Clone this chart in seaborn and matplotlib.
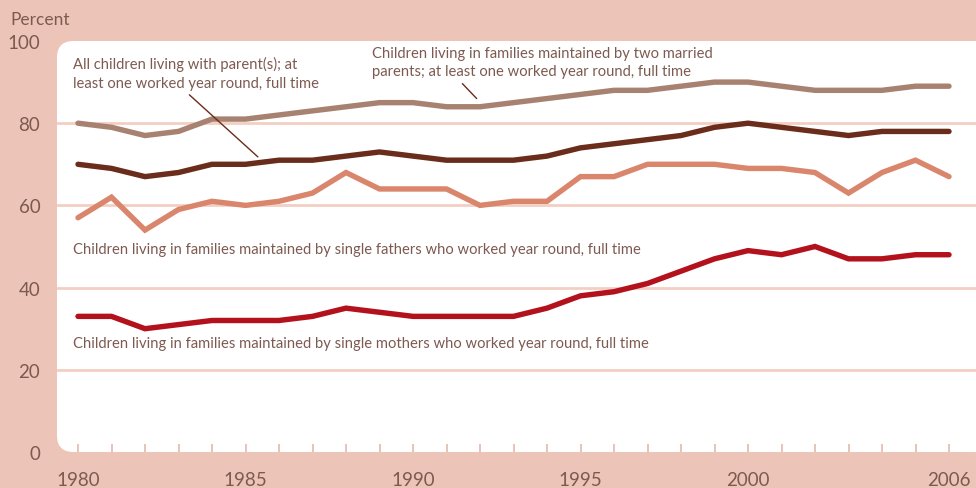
import numpy as np
import pandas as pd
import matplotlib
matplotlib.use('Agg')
import matplotlib.pyplot as plt
from matplotlib.patches import FancyBboxPatch
import seaborn as sns

# --- Data ---
YEARS = list(range(1980, 2007))
MARRIED = [80, 79, 77, 78, 81, 81, 82, 83, 84, 85, 85, 84, 84, 85, 86, 87, 88, 88, 89, 90, 90, 89, 88, 88, 88, 89, 89]
ALL_CHILDREN = [70, 69, 67, 68, 70, 70, 71, 71, 72, 73, 72, 71, 71, 71, 72, 74, 75, 76, 77, 79, 80, 79, 78, 77, 78, 78, 78]
FATHERS = [57, 62, 54, 59, 61, 60, 61, 63, 68, 64, 64, 64, 60, 61, 61, 67, 67, 70, 70, 70, 69, 69, 68, 63, 68, 71, 67]
MOTHERS = [33, 33, 30, 31, 32, 32, 32, 33, 35, 34, 33, 33, 33, 33, 35, 38, 39, 41, 44, 47, 49, 48, 50, 47, 47, 48, 48]
SERIES = ['married', 'all', 'fathers', 'mothers']
Y_TICKS = [0, 20, 40, 60, 80, 100]
X_TICK_LABELS = [1980, 1985, 1990, 1995, 2000, 2006]

# --- Styling ---
BG = '#edc5b8'
GRID = '#f3cfc3'
TEXT = '#7d5a50'
PALETTE = {'married': '#a88270', 'all': '#6a2c1b', 'fathers': '#d9866d', 'mothers': '#b3121d'}
FONT = ['Lato', 'DejaVu Sans']

df = pd.DataFrame({'Year': YEARS * 4,
                   'Percent': MARRIED + ALL_CHILDREN + FATHERS + MOTHERS,
                   'Series': np.repeat(SERIES, len(YEARS))})

sns.set_style('white')
plt.rcParams['font.family'] = FONT

fig = plt.figure(figsize=(9.76, 4.89), dpi=100, facecolor=BG)
W, H = 976, 489
left_px, right_px, top_px, bottom_px = 57, 976, 42, 453
ax = fig.add_axes([left_px / W, (H - bottom_px) / H, (right_px - left_px) / W, (bottom_px - top_px) / H])
ax.set_facecolor('none')
ax.set_zorder(2)

# white rounded panel behind the plot
panel = FancyBboxPatch((left_px / W, (H - bottom_px) / H), (right_px - left_px + 15) / W, (bottom_px - top_px) / H,
                       boxstyle='round,pad=0,rounding_size=0.017', mutation_aspect=W / H,
                       transform=fig.transFigure, facecolor='white', edgecolor='none', zorder=-5)
fig.patches.append(panel)

px_per_year = 33.5
x0 = 1980 - (78 - left_px) / px_per_year
x1 = 1980 + (right_px - 78) / px_per_year
ax.set_xlim(x0, x1)
ax.set_ylim(0, (bottom_px - top_px) / 4.1375)

for y in Y_TICKS[1:-1]:
    ax.axhline(y, color=GRID, lw=2, zorder=1)

sns.lineplot(data=df, x='Year', y='Percent', hue='Series', palette=PALETTE,
             linewidth=3.9, legend=False, ax=ax, zorder=3)
for line in ax.lines:
    line.set_solid_joinstyle('miter')

for s in ax.spines.values():
    s.set_visible(False)
ax.set_xlabel('')
ax.set_ylabel('')
ax.set_xticks(YEARS)
ax.set_xticklabels([str(y) if y in X_TICK_LABELS else '' for y in YEARS])
ax.tick_params(axis='x', bottom=True, direction='in', length=6, width=1.4, color='#e8c2b5', pad=14,
               labelsize=13.5, labelcolor=TEXT)
for t in ax.xaxis.get_major_ticks():
    t.tick1line.set_zorder(5)
ax.set_yticks(Y_TICKS)
ax.tick_params(axis='y', left=False, length=0, pad=12, labelsize=13.5, labelcolor=TEXT)
ax.get_yticklabels()[-1].set_y(99.2)

fig.text(10 / W, 1 - 20 / H, 'Percent', color=TEXT, fontsize=12.5, va='center', ha='left')

# --- Annotations ---
ann = dict(color=TEXT, fontsize=10.6, linespacing=1.4, va='top', ha='left')
ax.annotate('All children living with parent(s); at\nleast one worked year round, full time',
            xy=(1985.37, 71.8), xytext=(1979.85, 96.3),
            arrowprops=dict(arrowstyle='-', color='#6a2c1b', lw=1, shrinkA=2, shrinkB=0,
                            relpos=(0.45, 0.0)), **ann)
ax.annotate('Children living in families maintained by two married\nparents; at least one worked year round, full time',
            xy=(1991.9, 86.0), xytext=(1988.78, 98.8),
            arrowprops=dict(arrowstyle='-', color='#6a2c1b', lw=1, shrinkA=2, shrinkB=0,
                            relpos=(0.25, 0.0)), **ann)
ax.text(1979.85, 49.5, 'Children living in families maintained by single fathers who worked year round, full time',
        color=TEXT, fontsize=10.6, va='center', ha='left')
ax.text(1979.85, 26.6, 'Children living in families maintained by single mothers who worked year round, full time',
        color=TEXT, fontsize=10.6, va='center', ha='left')

fig.savefig('out.png', dpi=100, facecolor=BG)
